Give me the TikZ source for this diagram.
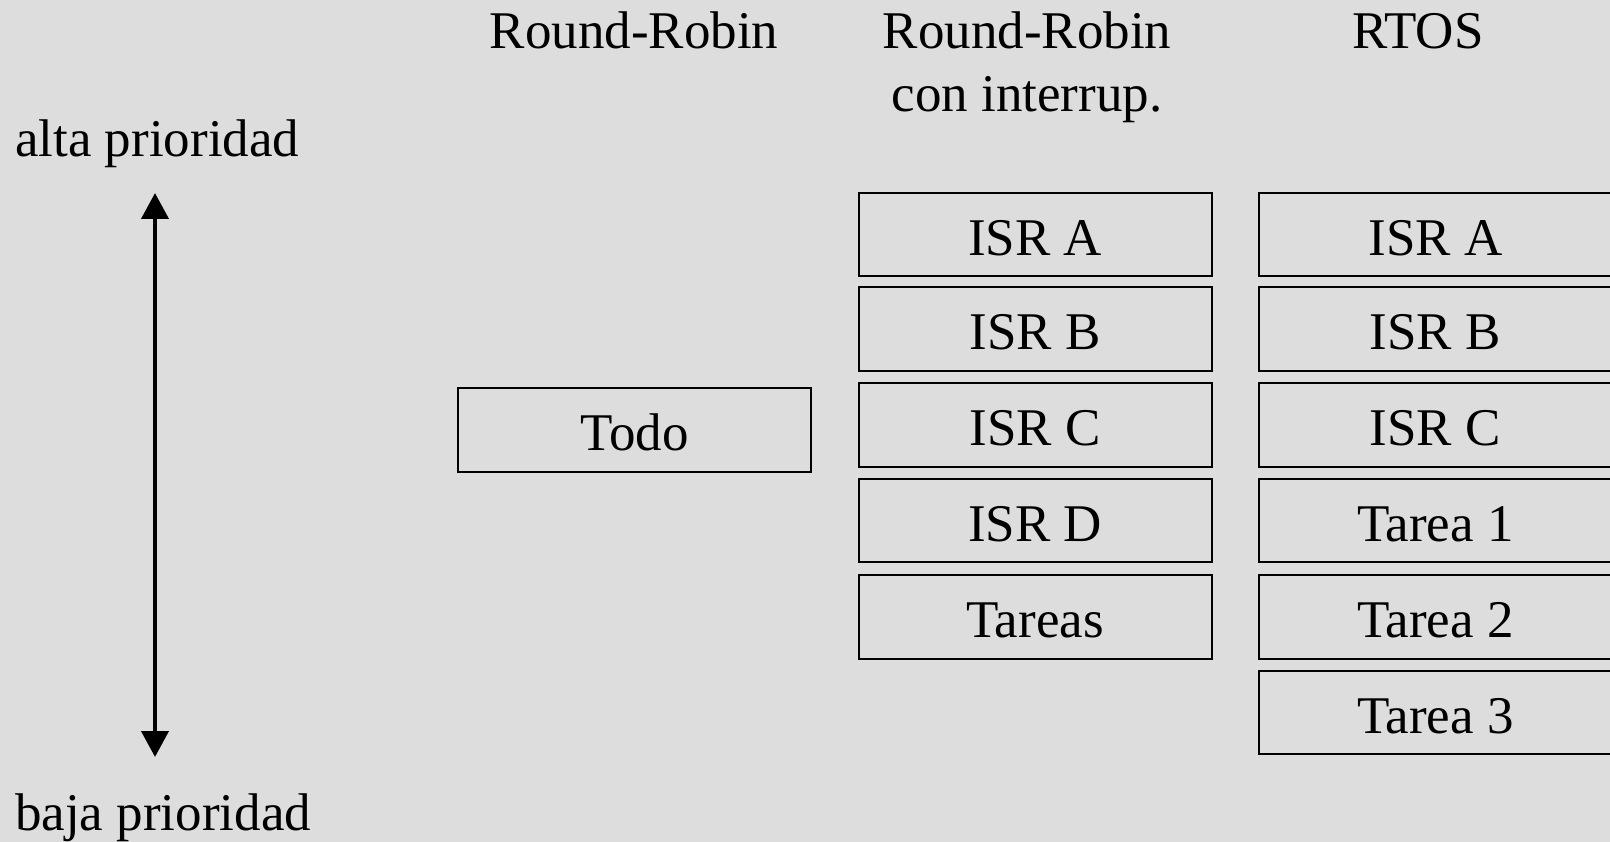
\documentclass[tikz,border=0pt]{standalone}
\usepackage{fontspec}
\setmainfont{Liberation Serif}
\usetikzlibrary{arrows.meta}
\definecolor{bg}{HTML}{DDDDDD}
\begin{document}
\begin{tikzpicture}[x=1pt,y=-1pt,
  every node/.style={font=\fontsize{53}{63.4}\selectfont, inner sep=0pt},
  slot/.style={draw=black, line width=2pt, minimum width=353pt, minimum height=83.5pt,
    text height=41.5pt, text depth=0pt},
  header/.style={anchor=base, align=center},
  side/.style={anchor=base west},
  prio/.style={line width=4pt, {Triangle[width=27pt,length=26pt]}-{Triangle[width=27pt,length=26pt]}}
]
\fill[bg] (0,0) rectangle (1610,842);
\useasboundingbox (0,0) rectangle (1610,842);
\clip (0,0) rectangle (1610,842);

% headers
\node[header] (h1) at (634,48.3) {Round-Robin};
\node[header] (h2) at (1027,111.7) {Round-Robin\\con interrup.};
\node[header] (h3) at (1418,48.3) {RTOS};

% side labels
\node[side] (alta) at (15,156.7) {alta prioridad};
\node[side] (baja) at (15,830) {baja prioridad};

% priority arrow
\coordinate (ptop) at (155,193);
\coordinate (pbot) at (155,757);
\draw[prio] (ptop) -- (pbot);

% column 1
\node[slot] (todo) at (634.6,430) {Todo};

% column 2
\node[slot] (m1) at (1035,234.75) {ISR A};
\node[slot] (m2) at (1035,329.25) {ISR B};
\node[slot] (m3) at (1035,424.75) {ISR C};
\node[slot] (m4) at (1035,520.25) {ISR D};
\node[slot] (m5) at (1035,616.75) {Tareas};

% column 3
\node[slot] (r1) at (1435.4,234.75) {ISR A};
\node[slot] (r2) at (1435.4,329.25) {ISR B};
\node[slot] (r3) at (1435.4,424.75) {ISR C};
\node[slot] (r4) at (1435.4,520.25) {Tarea 1};
\node[slot] (r5) at (1435.4,616.75) {Tarea 2};
\node[slot] (r6) at (1435.4,712.25) {Tarea 3};
\end{tikzpicture}
\end{document}
